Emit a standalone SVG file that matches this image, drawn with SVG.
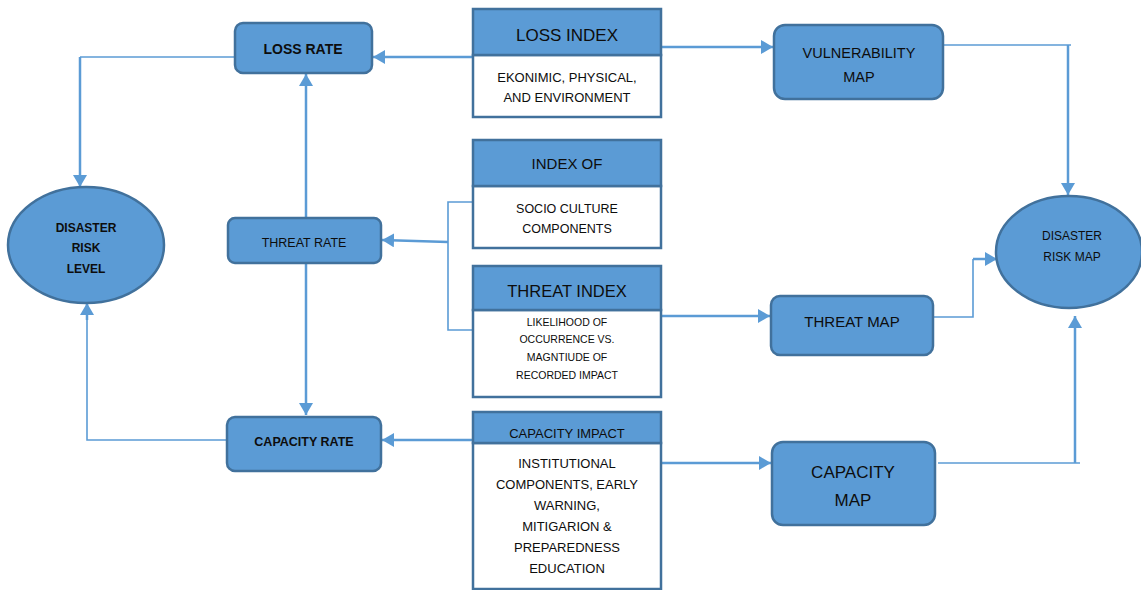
<svg xmlns="http://www.w3.org/2000/svg" width="1141" height="590" viewBox="0 0 1141 590">
<defs>
<style>
.n{fill:#5B9BD5;stroke:#41719C;stroke-width:2.5}
.h{fill:#5B9BD5;stroke:#41719C;stroke-width:2.5}
.b{fill:#FFFFFF;stroke:#41719C;stroke-width:2.5}
text{font-family:"Liberation Sans",Arial,sans-serif;fill:#0d0d0d;text-anchor:middle}
.bold{font-weight:bold}
.c{fill:none;stroke:#5B9BD5;stroke-width:2.5}
.t{fill:none;stroke:#5B9BD5;stroke-width:1.6}
</style>
<marker id="ah" markerUnits="userSpaceOnUse" markerWidth="12" markerHeight="14" refX="12" refY="7" orient="auto">
<path d="M0,0 L12,7 L0,14 z" fill="#5B9BD5"/>
</marker>
</defs>

<g id="connectors">
<!-- loss rate -> disaster risk level -->
<polyline class="t" points="235,57 80,57"/>
<line class="c" x1="80" y1="57" x2="80" y2="187" marker-end="url(#ah)"/>
<!-- threat rate -> loss rate -->
<line class="c" x1="306" y1="217" x2="306" y2="74" marker-end="url(#ah)"/>
<!-- threat rate -> capacity rate -->
<line class="c" x1="306" y1="264" x2="306" y2="415" marker-end="url(#ah)"/>
<!-- capacity rate -> disaster risk level -->
<polyline class="t" points="227,440 87,440 87,320"/>
<line class="c" x1="87" y1="320" x2="87" y2="303" marker-end="url(#ah)"/>
<!-- loss index -> loss rate -->
<line class="c" x1="473" y1="57" x2="373" y2="57" marker-end="url(#ah)"/>
<!-- loss index -> vulnerability map -->
<line class="c" x1="662" y1="47" x2="773" y2="47" marker-end="url(#ah)"/>
<!-- vulnerability map -> disaster risk map -->
<polyline class="t" points="944,45 1071,45"/>
<line class="c" x1="1068" y1="45" x2="1068" y2="195" marker-end="url(#ah)"/>
<!-- index of / threat index bracket -> threat rate -->
<polyline class="t" points="473,202 448,202 448,330 473,330"/>
<line class="c" x1="448" y1="242" x2="382" y2="240" marker-end="url(#ah)"/>
<!-- threat index -> threat map -->
<line class="c" x1="662" y1="316" x2="770" y2="316" marker-end="url(#ah)"/>
<!-- threat map -> disaster risk map -->
<polyline class="t" points="934,317 973,317 973,259"/>
<line class="c" x1="973" y1="259" x2="997" y2="259" marker-end="url(#ah)"/>
<!-- capacity impact -> capacity map -->
<line class="c" x1="662" y1="463" x2="771" y2="463" marker-end="url(#ah)"/>
<!-- capacity map -> disaster risk map -->
<polyline class="t" points="938,463 1080,463"/>
<line class="c" x1="1075" y1="463" x2="1075" y2="316" marker-end="url(#ah)"/>
<!-- capacity impact -> capacity rate -->
<line class="c" x1="473" y1="440" x2="382" y2="440" marker-end="url(#ah)"/>
</g>

<g id="loss-rate">
<rect class="n" x="235" y="23" width="137" height="50" rx="8"/>
<text class="bold" x="303" y="54" font-size="14">LOSS RATE</text>
</g>

<g id="disaster-risk-level">
<ellipse class="n" cx="86" cy="245" rx="78" ry="58"/>
<text class="bold" font-size="12"><tspan x="86" y="232">DISASTER</tspan><tspan x="86" y="252">RISK</tspan><tspan x="86" y="273">LEVEL</tspan></text>
</g>

<g id="threat-rate">
<rect class="n" x="228" y="218" width="153" height="45" rx="7"/>
<text x="304" y="247" font-size="12.5">THREAT RATE</text>
</g>

<g id="capacity-rate">
<rect class="n" x="227" y="417" width="154" height="54" rx="8"/>
<text class="bold" x="304" y="446" font-size="12.5">CAPACITY RATE</text>
</g>

<g id="loss-index">
<rect class="b" x="473" y="55" width="188" height="62"/>
<rect class="h" x="473" y="9" width="188" height="46"/>
<text x="567" y="41" font-size="17">LOSS INDEX</text>
<text font-size="13"><tspan x="567" y="82">EKONIMIC, PHYSICAL,</tspan><tspan x="567" y="102">AND ENVIRONMENT</tspan></text>
</g>

<g id="index-of">
<rect class="b" x="473" y="186" width="188" height="62"/>
<rect class="h" x="473" y="140" width="188" height="46"/>
<text x="567" y="169" font-size="15">INDEX OF</text>
<text font-size="12.5"><tspan x="567" y="213">SOCIO CULTURE</tspan><tspan x="567" y="233">COMPONENTS</tspan></text>
</g>

<g id="threat-index">
<rect class="b" x="473" y="310" width="188" height="87"/>
<rect class="h" x="473" y="266" width="188" height="44"/>
<text x="567" y="297" font-size="16.5">THREAT INDEX</text>
<text font-size="10.5"><tspan x="567" y="326">LIKELIHOOD OF</tspan><tspan x="567" y="343">OCCURRENCE VS.</tspan><tspan x="567" y="361">MAGNTIUDE OF</tspan><tspan x="567" y="379">RECORDED IMPACT</tspan></text>
</g>

<g id="capacity-impact">
<rect class="b" x="473" y="443" width="188" height="146"/>
<rect class="h" x="473" y="412" width="188" height="31"/>
<text x="567" y="438" font-size="13">CAPACITY IMPACT</text>
<text font-size="13"><tspan x="567" y="468">INSTITUTIONAL</tspan><tspan x="567" y="489">COMPONENTS, EARLY</tspan><tspan x="567" y="510">WARNING,</tspan><tspan x="567" y="531">MITIGARION &amp;</tspan><tspan x="567" y="552">PREPAREDNESS</tspan><tspan x="567" y="573">EDUCATION</tspan></text>
</g>

<g id="vulnerability-map">
<rect class="n" x="774" y="25" width="169" height="74" rx="11"/>
<text font-size="14.5"><tspan x="859" y="58">VULNERABILITY</tspan><tspan x="859" y="82">MAP</tspan></text>
</g>

<g id="disaster-risk-map">
<ellipse class="n" cx="1069" cy="252" rx="73" ry="56"/>
<text font-size="12"><tspan x="1072" y="240">DISASTER</tspan><tspan x="1072" y="261">RISK MAP</tspan></text>
</g>

<g id="threat-map">
<rect class="n" x="771" y="296" width="162" height="59" rx="9"/>
<text x="852" y="327" font-size="15">THREAT MAP</text>
</g>

<g id="capacity-map">
<rect class="n" x="772" y="442" width="163" height="83" rx="11"/>
<text font-size="17"><tspan x="853" y="478">CAPACITY</tspan><tspan x="853" y="506">MAP</tspan></text>
</g>
</svg>
